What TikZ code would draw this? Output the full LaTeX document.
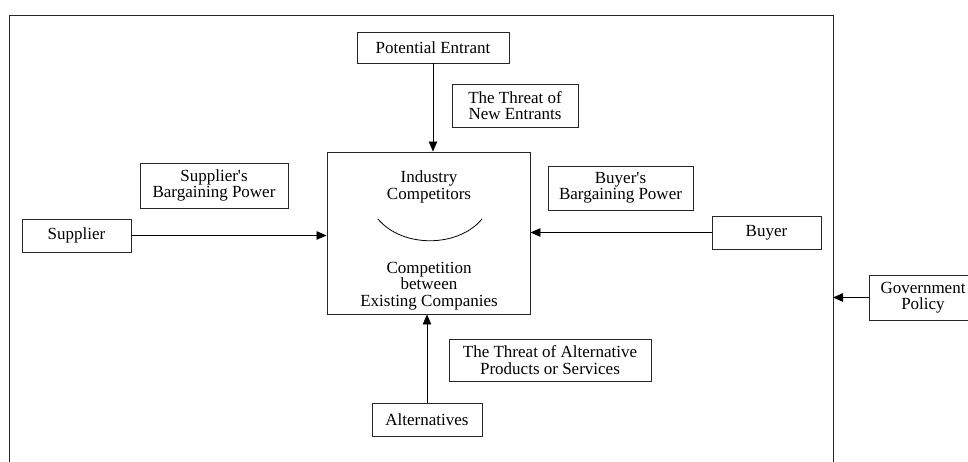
\documentclass[tikz,border=0pt]{standalone}
\usepackage{fontspec}
\setmainfont{Liberation Serif}[Ligatures=TeXOff]
\usetikzlibrary{arrows.meta}
\begin{document}
\begin{tikzpicture}[x=1pt,y=-1pt,
  font=\fontsize{17}{16.5}\selectfont,
  box/.style={draw=black!85,line width=0.9pt,fill=white,align=center,
    inner sep=0pt,minimum width=#1},
  link/.style={line width=0.8pt,-{Triangle[length=10pt,width=8.5pt]}}]
\useasboundingbox (0,0) rectangle (968,462);
\clip (0,0) rectangle (968,462);

% outer frame (open at the bottom of the page)
\draw[black!85,line width=0.9pt] (9.5,480) -- (9.5,15) -- (833,15) -- (833,480);
\coordinate (frameR) at (833,297.5);

% central box
\node[box=203pt,minimum height=162pt] (ctr) at (428.5,233) {};
\node[align=center] (ind) at (429,187) {Industry\\Competitors};
\node[align=center] (cmp) at (429,286) {Competition\\between\\Existing Companies};
\draw[line width=0.8pt] (378,219) .. controls (402,248) and (458,248) .. (482,219);

% forces
\node[box=152pt,minimum height=31pt] (pe) at (433,47.5) {Potential Entrant};
\node[box=126pt,minimum height=43pt] (tne) at (515,105.5) {The Threat of\\New Entrants};
\node[box=148pt,minimum height=45pt] (sbp) at (214,185.5) {Supplier's\\Bargaining Power};
\node[box=145pt,minimum height=44pt] (bbp) at (620.5,188) {Buyer's\\Bargaining Power};
\node[box=109pt,minimum height=33pt] (sup) at (76.5,235.5) {Supplier};
\node[box=109pt,minimum height=33pt] (buy) at (766.5,232.5) {Buyer};
\node[box=202pt,minimum height=42pt] (tap) at (550,360) {The Threat of Alternative\\Products or Services};
\node[box=110pt,minimum height=33pt] (alt) at (427,419.5) {Alternatives};
\node[box=108pt,minimum height=45pt] (gov) at (923,297.5) {Government\\Policy};

% connectors
\draw[link] (pe.south) -- (pe.south |- ctr.north);
\draw[link] (sup.east) -- (sup.east -| ctr.west);
\draw[link] (buy.west) -- (buy.west -| ctr.east);
\draw[link] (alt.north) -- (alt.north |- ctr.south);
\draw[link] (gov.west) -- (gov.west -| frameR);
\end{tikzpicture}
\end{document}
